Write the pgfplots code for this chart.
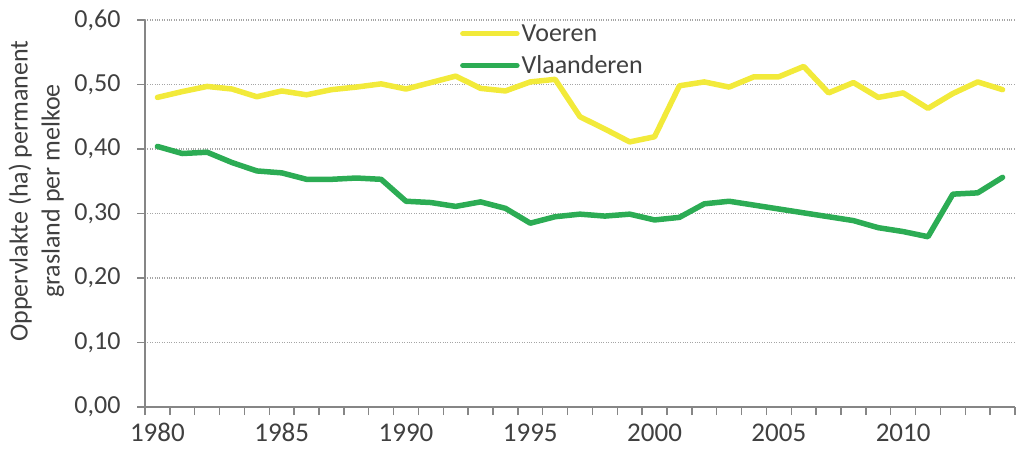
\documentclass[border=0pt]{standalone}
\usepackage{fontspec}
\setmainfont{Carlito}
\usepackage{pgfplots}
\pgfplotsset{compat=1.18}
\definecolor{voeren}{RGB}{242,234,58}
\definecolor{vlaan}{RGB}{44,172,84}
\definecolor{txt}{RGB}{64,64,64}
\definecolor{axgray}{RGB}{134,134,134}
\definecolor{gridgray}{RGB}{165,165,165}
\begin{document}
\begin{tikzpicture}
\begin{axis}[
  scale only axis, width=870pt, height=387pt,
  xmin=1979.5, xmax=2014.5, ymin=0, ymax=0.6,
  axis x line*=bottom, axis y line*=left,
  axis line style={draw=axgray, line width=1.5pt},
  xtick={1979.5,1980.5,...,2014.5},
  xticklabels={},
  extra x ticks={1980,1985,...,2010},
  extra x tick style={major tick length=0pt, xmajorgrids=false},
  tick align=outside,
  tick style={draw=axgray, line width=1.5pt},
  ytick={0,0.1,...,0.6},
  major tick length=8pt,
  ymajorgrids,
  grid style={gridgray, dotted, line width=1.3pt},
  xticklabel style={font=\fontsize{27}{30}\selectfont, text=txt, yshift=-13pt},
  yticklabel style={font=\fontsize{26}{30}\selectfont, text=txt, xshift=-13pt, /pgf/number format/fixed, /pgf/number format/fixed zerofill, /pgf/number format/precision=2, /pgf/number format/use comma},
  /pgf/number format/assume math mode=true,
  x tick label style={/pgf/number format/1000 sep={}},
  ylabel={Oppervlakte (ha) permanent\\grasland per melkoe},
  ylabel style={font=\fontsize{26}{32}\selectfont, text=txt, align=center, at={(axis description cs:-0.125,0.558)}, anchor=center},
  legend style={draw=none, fill=none, font=\fontsize{26}{30}\selectfont, text=txt, at={(axis description cs:0.362,0.994)}, anchor=north west, row sep=9pt, inner sep=0pt},
  legend cell align=left,
  legend image code/.code={\draw[#1, line width=5.5pt, line cap=round] (0pt,0pt) -- (54pt,0pt);},
  clip=false,
]
\addplot[voeren, line width=5.5pt, line join=round, line cap=round] coordinates {
(1980,0.480) (1981,0.489) (1982,0.497) (1983,0.493) (1984,0.481) (1985,0.490) (1986,0.484) (1987,0.492) (1988,0.496) (1989,0.501) (1990,0.493) (1991,0.503) (1992,0.513) (1993,0.494) (1994,0.490) (1995,0.504) (1996,0.508) (1997,0.450) (1998,0.431) (1999,0.411) (2000,0.419) (2001,0.498) (2002,0.504) (2003,0.496) (2004,0.512) (2005,0.512) (2006,0.528) (2007,0.487) (2008,0.503) (2009,0.480) (2010,0.487) (2011,0.463) (2012,0.486) (2013,0.504) (2014,0.492)
};
\addlegendentry{Voeren}
\addplot[vlaan, line width=5.5pt, line join=round, line cap=round] coordinates {
(1980,0.404) (1981,0.393) (1982,0.395) (1983,0.379) (1984,0.366) (1985,0.363) (1986,0.353) (1987,0.353) (1988,0.355) (1989,0.353) (1990,0.319) (1991,0.317) (1992,0.311) (1993,0.318) (1994,0.308) (1995,0.285) (1996,0.295) (1997,0.299) (1998,0.296) (1999,0.299) (2000,0.290) (2001,0.294) (2002,0.315) (2003,0.319) (2004,0.313) (2005,0.307) (2006,0.301) (2007,0.295) (2008,0.289) (2009,0.278) (2010,0.272) (2011,0.264) (2012,0.330) (2013,0.332) (2014,0.356)
};
\addlegendentry{Vlaanderen}
\end{axis}
\pgfresetboundingbox
\path (-145pt,-48pt) rectangle (872pt,407pt);
\end{tikzpicture}
\end{document}
